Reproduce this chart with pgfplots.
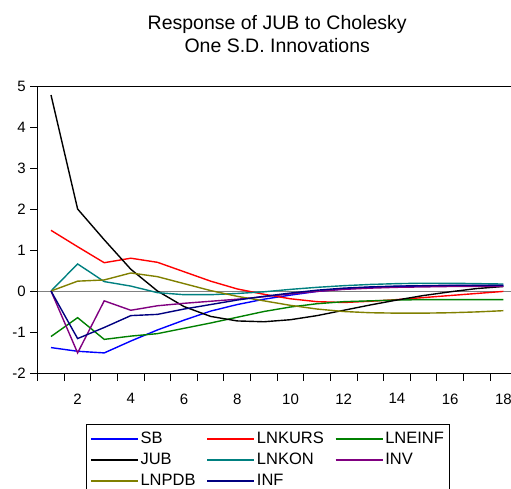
\documentclass[border=0pt]{standalone}
\usepackage{fontspec}
\setmainfont{Liberation Sans}
\usepackage{pgfplots}
\usepackage{pgfplotstable}
\pgfplotsset{compat=1.18}

\definecolor{cSB}{RGB}{0,0,255}
\definecolor{cKURS}{RGB}{255,0,0}
\definecolor{cEINF}{RGB}{0,128,0}
\definecolor{cKON}{RGB}{0,128,128}
\definecolor{cINV}{RGB}{128,0,128}
\definecolor{cPDB}{RGB}{128,128,0}
\definecolor{cINF}{RGB}{0,0,128}

% impulse responses, periods 1..18
\pgfplotstableread{
t  SB    LNKURS LNEINF JUB   LNKON INV   LNPDB INF
1  -1.38 1.48  -1.11  4.78  0.00  0.00  0.00  0.00
2  -1.47 1.08  -0.65  2.00  0.66  -1.51 0.24  -1.16
3  -1.51 0.69  -1.18  1.25  0.23  -0.24 0.27  -0.89
4  -1.22 0.80  -1.10  0.53  0.12  -0.47 0.44  -0.60
5  -0.95 0.70  -1.04  0.00  -0.04 -0.36 0.35  -0.57
6  -0.71 0.47  -0.91  -0.38 -0.09 -0.30 0.18  -0.44
7  -0.49 0.24  -0.78  -0.62 -0.09 -0.25 0.01  -0.33
8  -0.33 0.05  -0.64  -0.73 -0.06 -0.20 -0.13 -0.22
9  -0.20 -0.08 -0.50  -0.75 -0.02 -0.14 -0.24 -0.13
10 -0.10 -0.19 -0.39  -0.70 0.04  -0.07 -0.35 -0.05
11 -0.01 -0.26 -0.31  -0.60 0.09  -0.01 -0.44 0.02
12 0.05  -0.28 -0.26  -0.47 0.13  0.04  -0.50 0.07
13 0.09  -0.25 -0.24  -0.34 0.16  0.07  -0.53 0.10
14 0.11  -0.21 -0.22  -0.22 0.18  0.09  -0.54 0.12
15 0.12  -0.16 -0.21  -0.11 0.19  0.10  -0.54 0.13
16 0.13  -0.11 -0.21  -0.02 0.19  0.11  -0.53 0.14
17 0.13  -0.06 -0.21  0.06  0.18  0.11  -0.51 0.14
18 0.13  -0.01 -0.21  0.11  0.17  0.11  -0.48 0.14
}\irf

\begin{document}
\begin{tikzpicture}
    \useasboundingbox (-37.7pt,-115pt) rectangle (473.3pt,373pt);
    \clip (-37.7pt,-115pt) rectangle (473.3pt,373pt);
    \begin{axis}[
            scale only axis,
            width=479pt, height=287pt,
            xmin=0.5, xmax=18.5, ymin=-2, ymax=5,
            axis line style={line width=1pt},
            xtick={0.5,1.5,...,18.5},
            xticklabels={},
            extra x ticks={2,4,...,18},
            extra tick style={major tick length=0pt},
            xticklabel style={yshift=-17pt},
            yticklabel style={xshift=-1pt},
            ytick={-2,...,5},
            xtick pos=left, ytick pos=left,
            tick align=outside,
            major tick length=7.5pt,
            tick style={line width=1pt, black},
            /pgf/number format/assume math mode=true,
            ticklabel style={font=\fontsize{15pt}{18pt}\selectfont},
            title={Response of JUB to Cholesky\\One S.D. Innovations},
            title style={align=center, font=\fontsize{19.5pt}{23pt}\selectfont,
                at={(axis description cs:0.5,1)}, anchor=south, yshift=24pt},
            legend columns=3,
            legend cell align=left,
            legend style={at={(axis description cs:0.1,-0.178)}, anchor=north west,
                font=\fontsize{16.5pt}{20pt}\selectfont,
                draw=black, line width=1pt, inner sep=4pt,
                nodes={inner sep=2pt, text height=12.5pt, text depth=4.5pt},
                /tikz/every even column/.append style={column sep=9pt}},
            legend image code/.code={\draw[#1, line width=1.4pt] (0pt,0pt) -- (47pt,0pt);},
            every axis plot/.append style={line width=1.4pt},
        ]
        \addplot[gray, line width=1pt, forget plot] coordinates {(0.5,0) (18.5,0)};

        \addplot[cSB] table[x=t, y=SB] {\irf};
        \addlegendentry{SB}
        \addplot[cKURS] table[x=t, y=LNKURS] {\irf};
        \addlegendentry{LNKURS}
        \addplot[cEINF] table[x=t, y=LNEINF] {\irf};
        \addlegendentry{LNEINF}
        \addplot[black] table[x=t, y=JUB] {\irf};
        \addlegendentry{JUB}
        \addplot[cKON] table[x=t, y=LNKON] {\irf};
        \addlegendentry{LNKON}
        \addplot[cINV] table[x=t, y=INV] {\irf};
        \addlegendentry{INV}
        \addplot[cPDB] table[x=t, y=LNPDB] {\irf};
        \addlegendentry{LNPDB}
        \addplot[cINF] table[x=t, y=INF] {\irf};
        \addlegendentry{INF}
    \end{axis}
\end{tikzpicture}
\end{document}
